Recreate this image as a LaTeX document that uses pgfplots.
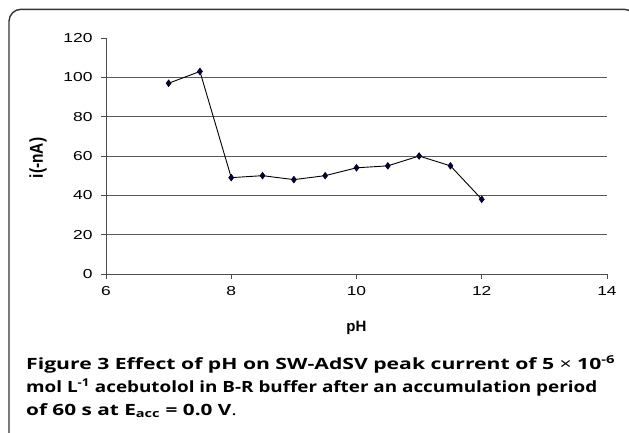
\documentclass[border=0pt]{standalone}
\usepackage{fontspec}
\usepackage{graphicx}
\setmainfont{Liberation Sans}
% the reference is stretched sideways, so the tick fonts are too
\newfontfamily\chartfont{Liberation Sans}[FakeStretch=1.34]
\newfontfamily\capfont{Open Sans}
\usepackage{pgfplots}
\pgfplotsset{compat=1.18}

\pgfplotstableread{
ph  i
7    97
7.5  103
8    49
8.5  50
9    48
9.5  50
10   54
10.5 55
11   60
11.5 55
12   38
}\phdata

\begin{document}
\begin{tikzpicture}[x=1pt,y=1pt]
\useasboundingbox (0,0) rectangle (629,-432);
% frame round the figure, cut by the page edge
\begin{scope}
\clip (0,0) rectangle (629,-432);
\draw[line width=1.4pt, black!80, rounded corners=12pt]
    (9,-440) -- (9,-9.3) -- (636,-9.3) -- (636,-440);
\end{scope}

\begin{axis}[
    at={(106pt,-274pt)}, anchor=origin,
    scale only axis,
    width=501pt, height=236pt,
    xmin=6, xmax=14,
    ymin=0, ymax=120,
    xtick={6,8,...,14},
    ytick={0,20,...,100},
    extra y ticks={120},
    extra y tick style={grid=none},
    ymajorgrids,
    grid style={black!65, line width=0.8pt},
    axis x line*=bottom,
    axis y line*=left,
    axis line style={black!70, line width=0.8pt, -},
    tick style={black!70, line width=0.8pt},
    tick align=outside,
    major tick length=5pt,
    /pgf/number format/assume math mode=true,
    tick label style={font=\chartfont\fontsize{13}{15}\selectfont},
    yticklabel style={xshift=-5pt},
    xticklabel style={yshift=-4pt},
    xlabel={\bfseries pH},
    ylabel={\scalebox{1}[1.2]{\bfseries i(-nA)}},
    every axis x label/.style={at={(rel axis cs:0.5,0)}, yshift=-54pt, anchor=center,
        font=\fontsize{15}{17}\selectfont},
    every axis y label/.style={at={(rel axis cs:0,0.5)}, xshift=-68pt, yshift=-2pt,
        rotate=90, anchor=center, font=\fontsize{15.5}{18}\selectfont},
    clip=false,
]
\addplot[black, line width=0.9pt, mark=diamond*,
    mark options={fill=blue!30!black, draw=black, line width=0.5pt},
    mark size=3.4pt] table[x=ph, y=i] {\phdata};
\end{axis}

\begin{scope}[every node/.style={inner sep=0pt, anchor=base west,
    font=\capfont\fontsize{15.5}{18}\selectfont}]
\node at (26,-369) {\resizebox{589pt}{\height}{\textbf{Figure 3} \textbf{Effect of pH on SW-AdSV peak current of 5 {\fontseries{m}\selectfont\texttimes} 10\textsuperscript{-6}}}};
\node at (26,-392) {\resizebox{571pt}{\height}{\textbf{mol L\textsuperscript{-1} acebutolol in B-R buffer after an accumulation period}}};
\node at (26,-415) {\scalebox{1.34}[1]{\textbf{of 60 s at E\textsubscript{acc} = 0.0 V}.}};
\end{scope}
\end{tikzpicture}
\end{document}
